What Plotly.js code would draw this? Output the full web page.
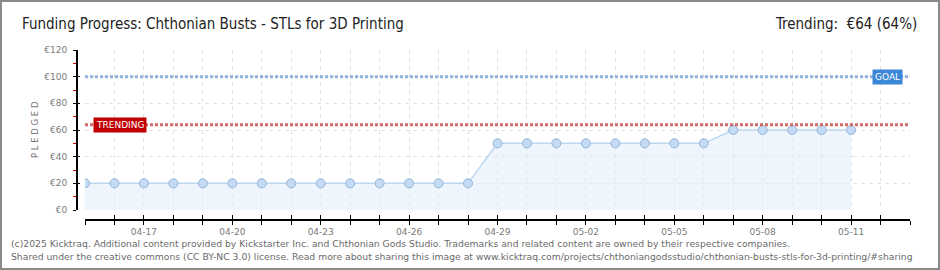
<!DOCTYPE html>
<html>
<head>
<meta charset="utf-8">
<script src="https://cdn.plot.ly/plotly-3.0.1.min.js"></script>
<style>
html,body{margin:0;padding:0;background:#fff;}
#wrap{position:relative;width:940px;height:270px;}
#chart{width:940px;height:270px;}
#frame{position:absolute;left:0;top:0;width:940px;height:270px;box-sizing:border-box;border:2px solid #8a8a8a;pointer-events:none;}
</style>
</head>
<body>
<div id="wrap"><div id="chart"></div><div id="frame"></div></div>
<script>
// ---- data ----
const dates = ["2025-04-15","2025-04-16","2025-04-17","2025-04-18","2025-04-19","2025-04-20","2025-04-21","2025-04-22","2025-04-23","2025-04-24","2025-04-25","2025-04-26","2025-04-27","2025-04-28","2025-04-29","2025-04-30","2025-05-01","2025-05-02","2025-05-03","2025-05-04","2025-05-05","2025-05-06","2025-05-07","2025-05-08","2025-05-09","2025-05-10","2025-05-11"];
const pledged = [20,20,20,20,20,20,20,20,20,20,20,20,20,20,50,50,50,50,50,50,50,50,60,60,60,60,60];
const goal = 100;
const trending = 64;
const tickDays = ["2025-04-15","2025-04-16","2025-04-17","2025-04-18","2025-04-19","2025-04-20","2025-04-21","2025-04-22","2025-04-23","2025-04-24","2025-04-25","2025-04-26","2025-04-27","2025-04-28","2025-04-29","2025-04-30","2025-05-01","2025-05-02","2025-05-03","2025-05-04","2025-05-05","2025-05-06","2025-05-07","2025-05-08","2025-05-09","2025-05-10","2025-05-11","2025-05-12","2025-05-13"];
const tickLabels = ["","","04-17","","","04-20","","","04-23","","","04-26","","","04-29","","","05-02","","","05-05","","","05-08","","","05-11","",""];
const xRange = ["2025-04-15","2025-05-13"];
const yTicks = [0,20,40,60,80,100,120];
const yTickLabels = ["€0","€20","€40","€60","€80","€100","€120"];
const titleText = "Funding Progress: Chthonian Busts - STLs for 3D Printing";
const trendText = "Trending:  €64 (64%)";
const footer1 = "(c)2025 Kicktraq. Additional content provided by Kickstarter Inc. and Chthonian Gods Studio. Trademarks and related content are owned by their respective companies.";
const footer2 = "Shared under the creative commons (CC BY-NC 3.0) license. Read more about sharing this image at www.kicktraq.com/projects/chthoniangodsstudio/chthonian-busts-stls-for-3d-printing/#sharing";

// ---- layout geometry ----
const W = 940, H = 270;
const mL = 76, mR = 30, mT = 50, mB = 51;
const pw = W - mL - mR, ph = H - mT - mB;
const px = v => (v - mL) / pw;         // page x -> paper x
const py = v => (H - mB - v) / ph;     // page y -> paper y

const tickFont = {family: "DejaVu Sans, Verdana, sans-serif", size: 9, color: "#7a7a7a"};
const headFont = {family: "Liberation Sans Narrow, DejaVu Sans Condensed, Arial Narrow, sans-serif", size: 15, color: "#222"};

const traces = [{
  x: dates, y: pledged, type: "scatter", mode: "lines+markers",
  fill: "tozeroy", fillcolor: "rgba(226,238,252,0.6)",
  line: {color: "#bcd6f2", width: 1.5},
  marker: {size: 9, color: "#c3dbf5", line: {color: "#94b3d6", width: 1}},
  hoverinfo: "skip", showlegend: false
}, {
  x: xRange, y: [null, null], xaxis: "x2", yaxis: "y2", type: "scatter", mode: "lines",
  hoverinfo: "skip", showlegend: false
}];

const layout = {
  width: W, height: H,
  margin: {l: mL, r: mR, t: mT, b: mB},
  paper_bgcolor: "#fff", plot_bgcolor: "rgba(0,0,0,0)",
  showlegend: false,
  xaxis: {
    type: "date", range: xRange, domain: [9 / pw, 1],
    anchor: "free", position: 0,
    tickmode: "array", tickvals: tickDays, ticktext: tickLabels,
    ticks: "outside", ticklen: 4, tickcolor: "#000", tickwidth: 1,
    showline: true, linecolor: "#000", linewidth: 1.5,
    showgrid: true, gridcolor: "#e2e2e2", griddash: "4px,4px", gridwidth: 1,
    zeroline: false, tickfont: tickFont, fixedrange: true
  },
  xaxis2: {
    type: "date", range: xRange, domain: [9 / pw, 1], overlaying: "x",
    anchor: "free", position: 0,
    tickmode: "array", tickvals: tickDays, ticktext: tickDays.map(() => ""),
    ticks: "inside", ticklen: 4, tickcolor: "#000", tickwidth: 1,
    showline: false, showgrid: false, zeroline: false, showticklabels: false
  },
  yaxis: {
    range: [0, 120], domain: [9 / ph, 1],
    anchor: "free", position: 0,
    tickmode: "array", tickvals: yTicks, ticktext: yTickLabels,
    ticks: "outside", ticklen: 3, tickcolor: "#000", tickwidth: 1,
    minor: {ticks: "outside", ticklen: 3, tickcolor: "#e00000", dtick: 10, tick0: 0, showgrid: false},
    showline: true, linecolor: "#000", linewidth: 1.5,
    showgrid: true, gridcolor: "#e2e2e2", griddash: "4px,4px", gridwidth: 1,
    zeroline: false, tickfont: tickFont, ticklabelstandoff: 4, fixedrange: true
  },
  yaxis2: {
    range: [0, 120], domain: [9 / ph, 1], overlaying: "y",
    anchor: "free", position: 0,
    tickmode: "array", tickvals: yTicks,
    ticks: "inside", ticklen: 3, tickcolor: "#000", tickwidth: 1,
    showline: false, showgrid: false, zeroline: false, showticklabels: false
  },
  shapes: [
    {type: "line", xref: "paper", yref: "y", x0: 9 / pw, x1: 1, y0: goal, y1: goal,
     line: {color: "#8fb3dc", width: 3, dash: "3px,2px"}},
    {type: "line", xref: "paper", yref: "y", x0: 9 / pw, x1: 1, y0: trending, y1: trending,
     line: {color: "#d26a6a", width: 3, dash: "3px,2px"}}
  ],
  annotations: [
    {text: titleText, xref: "paper", yref: "paper", x: px(20), y: py(24), xanchor: "left", yanchor: "middle",
     showarrow: false, font: headFont},
    {text: trendText, xref: "paper", yref: "paper", x: px(919), y: py(24), xanchor: "right", yanchor: "middle",
     showarrow: false, font: headFont},
    {text: "GOAL", xref: "paper", yref: "y", x: px(887), y: goal, xanchor: "center", yanchor: "middle",
     showarrow: false, bgcolor: "#3c87d8", borderpad: 2,
     font: {family: "DejaVu Sans, sans-serif", size: 9, color: "#fff"}},
    {text: "TRENDING", xref: "paper", yref: "y", x: px(120), y: trending, xanchor: "center", yanchor: "middle",
     showarrow: false, bgcolor: "#c00000", borderpad: 2,
     font: {family: "DejaVu Sans, sans-serif", size: 9, color: "#fff"}},
    {text: "P L E D G E D", xref: "paper", yref: "paper", x: px(35), y: py(130), xanchor: "center", yanchor: "middle",
     textangle: -90, showarrow: false, font: {family: "DejaVu Sans, sans-serif", size: 8.5, color: "#7a7a7a"}},
    {text: footer1, xref: "paper", yref: "paper", x: px(9), y: py(243), xanchor: "left", yanchor: "middle",
     showarrow: false, font: {family: "DejaVu Sans, Verdana, sans-serif", size: 9.25, color: "#6a6a6a"}},
    {text: footer2, xref: "paper", yref: "paper", x: px(9), y: py(256), xanchor: "left", yanchor: "middle",
     showarrow: false, font: {family: "DejaVu Sans, Verdana, sans-serif", size: 9.25, color: "#6a6a6a"}}
  ]
};

Plotly.newPlot("chart", traces, layout, {displayModeBar: false, staticPlot: true});
</script>
</body>
</html>
